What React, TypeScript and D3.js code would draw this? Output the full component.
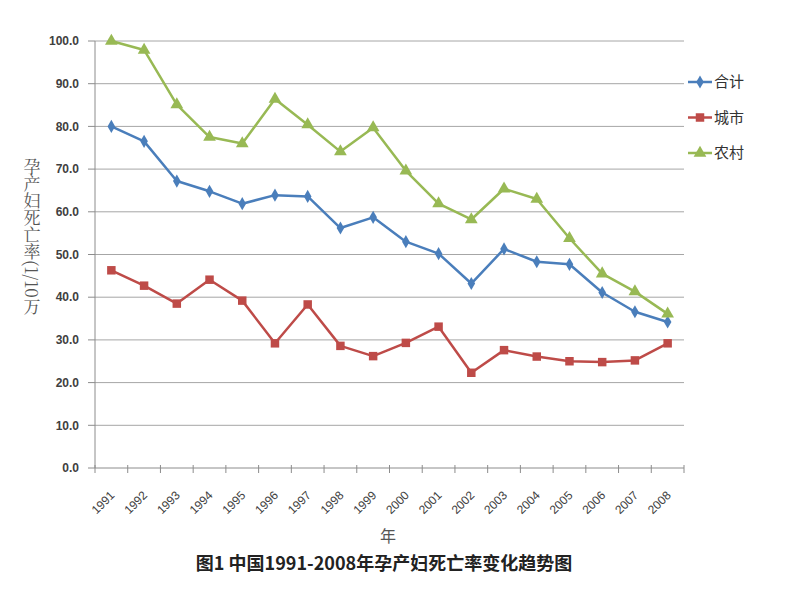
import React from "react";
import * as d3 from "d3";

const years = ["1991","1992","1993","1994","1995","1996","1997","1998","1999","2000","2001","2002","2003","2004","2005","2006","2007","2008"];
const total = [80.0, 76.5, 67.2, 64.8, 61.9, 63.9, 63.6, 56.2, 58.7, 53.0, 50.2, 43.2, 51.3, 48.3, 47.7, 41.1, 36.6, 34.2];
const urban = [46.3, 42.7, 38.5, 44.1, 39.2, 29.2, 38.3, 28.6, 26.2, 29.3, 33.1, 22.3, 27.6, 26.1, 25.0, 24.8, 25.2, 29.2];
const rural = [100.0, 97.9, 85.1, 77.5, 76.0, 86.4, 80.4, 74.1, 79.7, 69.6, 61.9, 58.2, 65.4, 63.0, 53.8, 45.5, 41.3, 36.1];
const yTicks = [0, 10, 20, 30, 40, 50, 60, 70, 80, 90, 100];
const seriesNames = ["合计", "城市", "农村"];
const colors = ["#4a7ebb", "#be4b48", "#98b954"];
const shapes = [d3.symbolDiamond, d3.symbolSquare, d3.symbolTriangle];
const shapeSizes = [50, 72, 70];

export default function App() {
  const left = 95, right = 684, top = 41, bottom = 468;
  const x = d3.scaleBand<string>().domain(years).range([left, right]);
  const y = d3.scaleLinear().domain([0, 100]).range([bottom, top]);
  const cx = (yr: string) => (x(yr) as number) + x.bandwidth() / 2;
  const data = [total, urban, rural];
  const line = d3.line<number>().x((_, i) => cx(years[i])).y((v) => y(v));
  const font = "'Liberation Sans', Arial, sans-serif";

  return (
    <svg width={800} height={600} style={{ position: "absolute", left: 0, top: 0, background: "#fff" }}>
      {yTicks.map((t) => (
        <g key={t}>
          {t > 0 && <line x1={left} x2={right} y1={y(t)} y2={y(t)} stroke="#a6a6a6" strokeWidth={1} />}
          <line x1={left - 7} x2={left} y1={y(t)} y2={y(t)} stroke="#8c8c8c" />
          <text x={79} y={y(t)} dy="0.35em" textAnchor="end" fontFamily={font} fontSize={12} fontWeight={700} fill="#404040">
            {t.toFixed(1)}
          </text>
        </g>
      ))}
      <line x1={left} x2={left} y1={top} y2={bottom} stroke="#8c8c8c" />
      <line x1={left} x2={right} y1={bottom} y2={bottom} stroke="#8c8c8c" />
      {years.concat(["end"]).map((yr, i) => {
        const xx = left + i * x.step();
        return <line key={yr} x1={xx} x2={xx} y1={bottom - 3} y2={bottom + 5} stroke="#8c8c8c" />;
      })}
      {years.map((yr) => (
        <text key={yr} transform={`translate(${cx(yr) + 1},${bottom + 25}) rotate(-45)`} textAnchor="end" dy="0.35em"
          fontFamily={font} fontSize={12} fill="#404040">
          {yr}
        </text>
      ))}
      {data.map((vals, s) => (
        <g key={s}>
          <path d={line(vals) || ""} fill="none" stroke={colors[s]} strokeWidth={2.5} strokeLinejoin="round" />
          {vals.map((v, i) => (
            <path key={i} transform={`translate(${cx(years[i])},${y(v)})`} d={d3.symbol().type(shapes[s]).size(shapeSizes[s])() || ""} fill={colors[s]} />
          ))}
        </g>
      ))}
      {seriesNames.map((n, s) => {
        const ly = 82 + s * 35.5;
        return (
          <g key={n}>
            <line x1={688} x2={712} y1={ly} y2={ly} stroke={colors[s]} strokeWidth={2.5} />
            <path transform={`translate(700,${ly})`} d={d3.symbol().type(shapes[s]).size(shapeSizes[s])() || ""} fill={colors[s]} />
            <text x={714} y={ly} dy="0.35em" fontFamily="'Noto Sans CJK SC', sans-serif" fontSize={15} fill="#333">{n}</text>
          </g>
        );
      })}
      <text x={32} y={158} style={{ writingMode: "vertical-rl" } as any} fontFamily="'Noto Serif CJK SC', 'Noto Sans CJK SC', serif" fontSize={17} fill="#555">
        孕产妇死亡率(1/10万
      </text>
      <text x={388} y={542} textAnchor="middle" fontFamily="'Noto Sans CJK SC', sans-serif" fontSize={16} fill="#555">年</text>
      <text x={384} y={570} textAnchor="middle" fontFamily="'Noto Sans CJK SC', sans-serif" fontSize={18} fontWeight={700} fill="#222">
        图1 中国1991-2008年孕产妇死亡率变化趋势图
      </text>
    </svg>
  );
}
